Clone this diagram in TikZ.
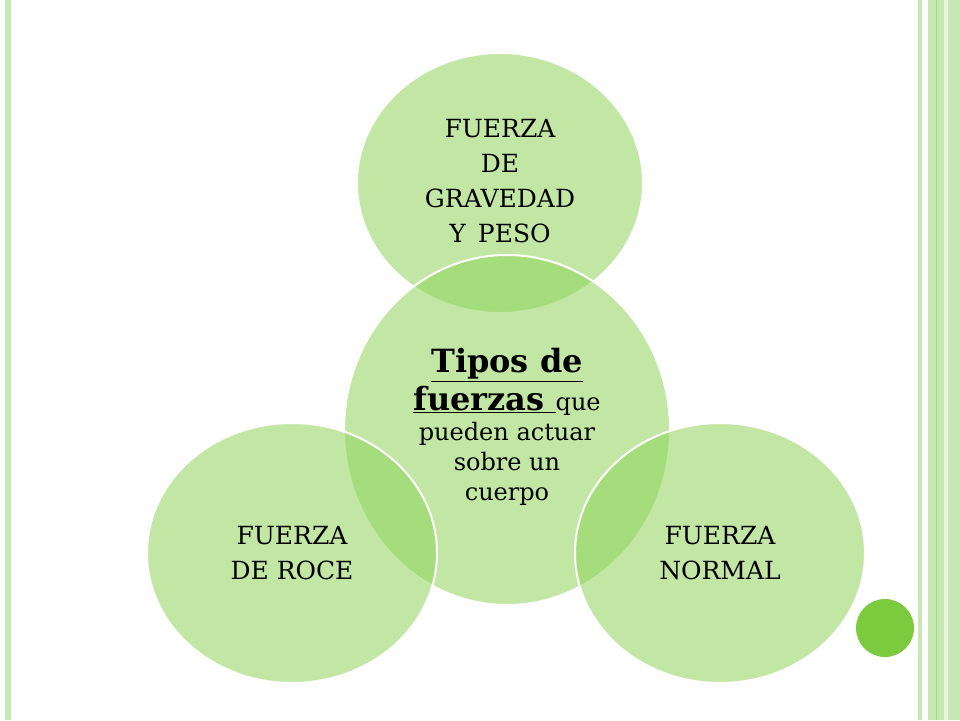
\documentclass[tikz,border=0pt]{standalone}
\usepackage{fontspec}
\usetikzlibrary{shapes.geometric}
\setmainfont{DejaVu Serif}
\definecolor{cf}{HTML}{8FD45A}
\definecolor{st}{HTML}{C6E8B2}
\definecolor{dk}{HTML}{7CCB3E}
\begin{document}
\begin{tikzpicture}[x=1pt,y=-1pt,
  circ/.style={fill=cf,fill opacity=0.55,draw=white,line width=2pt},
  lab/.style={align=center,text=black,font=\fontsize{25}{35}\selectfont}]
\useasboundingbox (0,0) rectangle (960,720);
\fill[st] (5,0) rectangle (11,720);
\fill[st] (918,0) rectangle (922,720);
\fill[st] (928,0) rectangle (960,720);
\fill[dk!70] (935.5,0) rectangle (936.5,720);
\fill[white!60!st] (944,0) rectangle (948,720);
\node[circ,ellipse,minimum width=286,minimum height=260,inner sep=0] (top) at (500,183) {};
\node[circ,ellipse,minimum width=326,minimum height=350,inner sep=0] (mid) at (507,430) {};
\node[circ,ellipse,minimum width=290,minimum height=260,inner sep=0] (left) at (292,553) {};
\node[circ,ellipse,minimum width=290,minimum height=260,inner sep=0] (right) at (720,553) {};
\fill[dk] (885,628) circle (29);
\node[lab] (tt) at (500,181) {FUERZA\\DE\\GRAVEDAD\\Y\, PESO};
\node[lab] (lt) at (292,553) {FUERZA\\DE ROCE};
\node[lab] (rt) at (720,553) {FUERZA\\NORMAL};
\node[align=center,font=\fontsize{24}{30}\selectfont] (mt) at (507,427)
 {{\fontsize{32}{41}\selectfont\bfseries \underline{Tipos de}}\\[4pt]
  {\fontsize{32}{41}\selectfont\bfseries \underline{fuerzas }}que\\
  pueden actuar\\sobre un\\cuerpo};
\end{tikzpicture}
\end{document}
